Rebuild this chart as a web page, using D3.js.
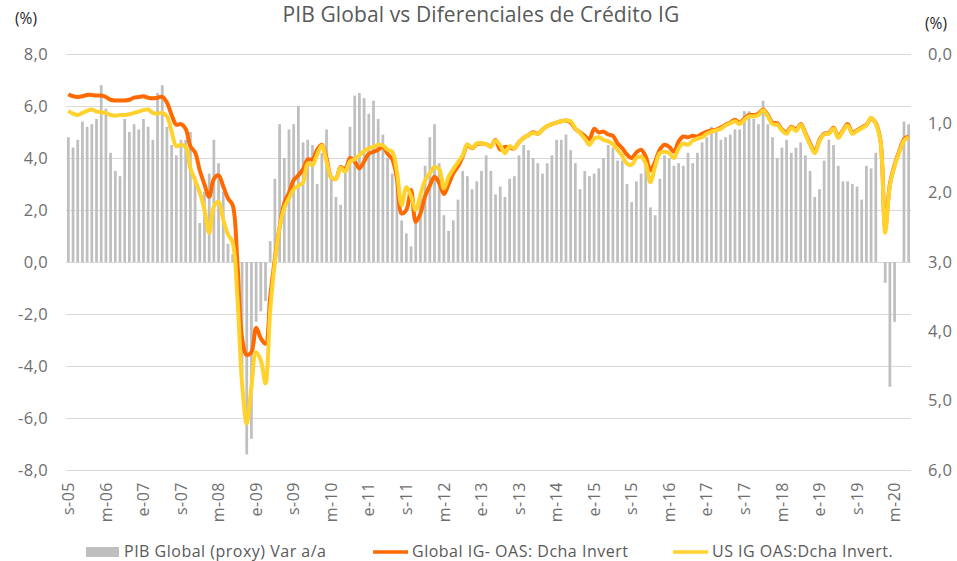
<!DOCTYPE html>
<html>
<head>
<meta charset="utf-8">
<script src="https://cdn.jsdelivr.net/npm/d3@7/dist/d3.min.js"></script>
<style>
    body { margin: 0; background: #fff; }
    text { font-family: "Open Sans", sans-serif; }
</style>
</head>
<body>
<div id="chart"></div>
<script>
// PIB Global (proxy) Var a/a, monthly from s-05 (left axis, %)
const pibGlobal = [
    4.8, 4.4, 4.7, 5.4, 5.2, 5.3, 5.5, 6.8, 5.9, 4.2,
    3.5, 3.3, 5.5, 5.0, 5.3, 5.1, 5.5, 5.2, 4.7, 6.5,
    6.8, 5.2, 4.5, 4.1, 4.7, 4.7, 5.0, 3.3, 1.5, 2.7,
    3.4, 4.7, 3.8, 2.7, 0.7, 0.3, -1.0, -4.3, -7.4, -6.8,
    -2.3, -1.9, -1.5, 0.8, 3.2, 5.3, 4.0, 5.1, 5.3, 6.0,
    4.6, 4.7, 4.5, 3.0, 4.2, 5.1, 3.3, 2.5, 2.2, 3.7,
    5.2, 6.4, 6.5, 6.3, 5.7, 6.2, 5.5, 4.9, 4.0, 3.4,
    3.2, 1.6, 1.1, 0.6, 1.6, 2.6, 3.7, 4.8, 5.3, 3.8,
    1.8, 1.2, 1.6, 2.4, 3.5, 3.3, 2.8, 3.1, 3.5, 4.1,
    3.5, 2.6, 2.9, 2.5, 3.2, 3.3, 4.1, 4.5, 4.3, 4.0,
    3.8, 3.4, 3.8, 4.1, 4.7, 4.7, 4.9, 4.3, 3.8, 2.8,
    3.5, 3.3, 3.4, 3.6, 4.0, 4.5, 4.4, 3.9, 3.9, 3.0,
    2.3, 3.1, 3.4, 4.0, 2.1, 1.8, 3.2, 4.1, 4.0, 3.7,
    3.8, 3.7, 4.2, 3.8, 4.2, 4.6, 4.8, 5.2, 5.0, 4.7,
    4.8, 4.9, 5.1, 5.1, 5.8, 5.8, 5.5, 5.3, 6.2, 5.3,
    4.8, 4.0, 4.4, 4.7, 4.2, 4.4, 4.6, 4.1, 3.5, 2.5,
    2.8, 3.9, 4.7, 4.5, 3.7, 3.1, 3.1, 3.0, 2.9, 2.4,
    3.7, 3.6, 4.2, 0.0, -0.8, -4.8, -2.3, 0.0, 5.4, 5.3
];

// Global IG- OAS (right axis, inverted, %)
const globalIG = [
    0.58, 0.61, 0.62, 0.61, 0.59, 0.59, 0.60, 0.60, 0.62, 0.66,
    0.67, 0.67, 0.67, 0.66, 0.63, 0.62, 0.61, 0.63, 0.64, 0.63,
    0.62, 0.70, 0.88, 1.02, 1.01, 1.08, 1.33, 1.42, 1.68, 1.88,
    2.06, 1.80, 1.75, 1.91, 2.08, 2.18, 3.00, 4.10, 4.34, 4.30,
    3.95, 4.10, 4.18, 3.50, 2.95, 2.50, 2.15, 2.00, 1.82, 1.75,
    1.66, 1.52, 1.52, 1.38, 1.31, 1.50, 1.78, 1.80, 1.63, 1.67,
    1.50, 1.55, 1.65, 1.55, 1.44, 1.41, 1.38, 1.34, 1.44, 1.52,
    1.80, 2.30, 2.25, 1.96, 2.42, 2.30, 2.05, 1.90, 1.77, 1.86,
    2.02, 1.88, 1.72, 1.62, 1.48, 1.32, 1.36, 1.30, 1.29, 1.30,
    1.33, 1.24, 1.38, 1.34, 1.35, 1.36, 1.27, 1.21, 1.17, 1.13,
    1.15, 1.09, 1.04, 1.01, 0.99, 0.97, 0.96, 0.99, 1.08, 1.13,
    1.18, 1.23, 1.08, 1.13, 1.12, 1.16, 1.18, 1.29, 1.36, 1.45,
    1.50, 1.42, 1.38, 1.48, 1.68, 1.55, 1.38, 1.31, 1.34, 1.41,
    1.26, 1.19, 1.20, 1.18, 1.19, 1.15, 1.12, 1.10, 1.09, 1.06,
    1.02, 0.99, 0.95, 0.99, 0.93, 0.88, 0.88, 0.86, 0.80, 0.88,
    0.99, 1.00, 1.09, 1.13, 1.05, 1.09, 1.01, 1.14, 1.29, 1.41,
    1.24, 1.15, 1.14, 1.06, 1.19, 1.10, 1.01, 1.13, 1.10, 1.06,
    1.02, 0.93, 1.00, 1.25, 2.50, 1.88, 1.60, 1.40, 1.23, 1.19
];

// US IG OAS (right axis, inverted, %)
const usIG = [
    0.82, 0.86, 0.88, 0.85, 0.82, 0.80, 0.83, 0.84, 0.85, 0.88,
    0.89, 0.88, 0.88, 0.87, 0.85, 0.83, 0.81, 0.80, 0.85, 0.86,
    0.85, 0.90, 1.12, 1.33, 1.31, 1.34, 1.65, 1.82, 2.00, 2.25,
    2.58, 2.20, 2.13, 2.39, 2.60, 2.72, 3.50, 4.75, 5.33, 4.80,
    4.30, 4.42, 4.75, 3.70, 3.00, 2.50, 2.22, 2.08, 1.95, 1.90,
    1.85, 1.58, 1.60, 1.45, 1.32, 1.55, 1.78, 1.80, 1.64, 1.70,
    1.55, 1.52, 1.46, 1.40, 1.36, 1.34, 1.31, 1.32, 1.38, 1.41,
    1.70, 2.18, 1.92, 2.05, 2.25, 2.03, 1.82, 1.72, 1.63, 1.66,
    1.94, 1.77, 1.66, 1.56, 1.46, 1.30, 1.36, 1.29, 1.29, 1.30,
    1.34, 1.25, 1.32, 1.43, 1.33, 1.36, 1.27, 1.21, 1.17, 1.14,
    1.15, 1.09, 1.04, 1.01, 0.99, 0.97, 0.96, 0.97, 1.07, 1.14,
    1.22, 1.31, 1.22, 1.20, 1.24, 1.26, 1.30, 1.38, 1.47, 1.58,
    1.60, 1.50, 1.48, 1.58, 1.85, 1.62, 1.43, 1.41, 1.43, 1.50,
    1.36, 1.29, 1.31, 1.25, 1.22, 1.20, 1.15, 1.12, 1.10, 1.08,
    1.03, 1.00, 0.97, 1.01, 0.95, 0.90, 0.90, 0.88, 0.81, 0.90,
    1.01, 1.02, 1.10, 1.15, 1.06, 1.11, 1.02, 1.16, 1.31, 1.43,
    1.26, 1.16, 1.15, 1.07, 1.21, 1.11, 1.03, 1.15, 1.11, 1.07,
    1.03, 0.92, 1.01, 1.26, 2.58, 1.90, 1.62, 1.42, 1.25, 1.20
];

// one label every 8 months
const tickLabels = [
    "s-05", "m-06", "e-07", "s-07", "m-08", "e-09", "s-09", "m-10",
    "e-11", "s-11", "m-12", "e-13", "s-13", "m-14", "e-15", "s-15",
    "m-16", "e-17", "s-17", "m-18", "e-19", "s-19", "m-20"
];
const tickStep = 8;

const leftTicks = [8, 6, 4, 2, 0, -2, -4, -6, -8];
const rightTicks = [0, 1, 2, 3, 4, 5, 6];

const legendItems = [
    { label: "PIB Global (proxy) Var a/a", type: "bar", color: "#bfbfbf", x: 86 },
    { label: "Global IG- OAS: Dcha Invert", type: "line", color: "#ff6a00", x: 373 },
    { label: "US IG OAS:Dcha Invert.", type: "line", color: "#ffd22e", x: 673 }
];

const width = 957, height = 561;
const margin = { top: 54, right: 46, bottom: 91, left: 66 };
const innerW = width - margin.left - margin.right;
const innerH = height - margin.top - margin.bottom;

const es = d3.formatLocale({ decimal: ",", thousands: ".", grouping: [3], currency: ["", "€"], minus: "-" });
const fmt = es.format(".1f");

const svg = d3.select("#chart")
    .append("svg")
    .attr("width", width)
    .attr("height", height);

const chart = svg.append("g")
    .attr("transform", "translate(" + margin.left + "," + margin.top + ")");

const xScale = d3.scaleBand()
    .domain(d3.range(pibGlobal.length))
    .range([0, innerW])
    .paddingInner(0.42)
    .paddingOuter(0.21);

const yLeft = d3.scaleLinear()
    .domain([-8, 8])
    .range([innerH, 0]);

const yRight = d3.scaleLinear()
    .domain([0, 6])
    .range([0, innerH]);

// gridlines
chart.append("g")
    .attr("class", "grid")
    .call(d3.axisLeft(yLeft).tickValues(leftTicks).tickSize(-innerW).tickFormat(""))
    .call(g => g.select(".domain").remove())
    .call(g => g.selectAll("line").attr("stroke", "#d9d9d9").attr("stroke-width", 1));

// bars
chart.append("g")
    .attr("class", "bars")
    .selectAll("rect")
    .data(pibGlobal)
    .enter()
    .append("rect")
    .attr("x", (d, i) => xScale(i))
    .attr("width", xScale.bandwidth())
    .attr("y", d => d >= 0 ? yLeft(d) : yLeft(0))
    .attr("height", d => Math.abs(yLeft(d) - yLeft(0)))
    .attr("fill", "#bfbfbf");

// lines
const line = (series) => d3.line()
    .x((d, i) => xScale(i) + xScale.bandwidth() / 2)
    .y(d => yRight(d))
    .curve(d3.curveCatmullRom.alpha(0.5))(series);

chart.append("path")
    .attr("d", line(globalIG))
    .attr("fill", "none")
    .attr("stroke", "#ff6a00")
    .attr("stroke-width", 4)
    .attr("stroke-linejoin", "round");

chart.append("path")
    .attr("d", line(usIG))
    .attr("fill", "none")
    .attr("stroke", "#ffd22e")
    .attr("stroke-width", 4)
    .attr("stroke-linejoin", "round");

// left axis labels
chart.append("g")
    .call(d3.axisLeft(yLeft).tickValues(leftTicks).tickSize(0).tickPadding(18).tickFormat(fmt))
    .call(g => g.select(".domain").remove())
    .call(g => g.selectAll("text")
        .attr("fill", "#6e6e6e")
        .style("font-size", "16.5px")
        .style("letter-spacing", "0.4px"));

// right axis labels
chart.append("g")
    .attr("transform", "translate(" + innerW + ",0)")
    .call(d3.axisRight(yRight).tickValues(rightTicks).tickSize(0).tickPadding(17).tickFormat(fmt))
    .call(g => g.select(".domain").remove())
    .call(g => g.selectAll("text")
        .attr("fill", "#6e6e6e")
        .style("font-size", "16.5px")
        .style("letter-spacing", "0.4px"));

// x labels, rotated
chart.append("g")
    .attr("class", "x-labels")
    .selectAll("text")
    .data(tickLabels)
    .enter()
    .append("text")
    .attr("transform", (d, k) =>
        "translate(" + (xScale(k * tickStep) + xScale.bandwidth() / 2) + "," + (innerH + 12) + ") rotate(-90)")
    .attr("dy", "0.35em")
    .attr("text-anchor", "end")
    .attr("fill", "#6e6e6e")
    .style("font-size", "16px")
    .style("letter-spacing", "0.5px")
    .text(d => d);

// title and units
svg.append("text")
    .attr("x", 481)
    .attr("y", 22)
    .attr("text-anchor", "middle")
    .attr("fill", "#595959")
    .style("font-size", "21px")
    .style("letter-spacing", "0.1px")
    .text("PIB Global vs Diferenciales de Crédito IG");

svg.append("text")
    .attr("x", 15)
    .attr("y", 24)
    .attr("fill", "#262626")
    .style("font-size", "15.5px")
    .text("(%)");

svg.append("text")
    .attr("x", 925)
    .attr("y", 29)
    .attr("fill", "#262626")
    .style("font-size", "15.5px")
    .text("(%)");

// legend
const legend = svg.append("g")
    .attr("class", "legend")
    .selectAll("g")
    .data(legendItems)
    .enter()
    .append("g")
    .attr("transform", d => "translate(" + d.x + ",552)");

legend.filter(d => d.type === "bar")
    .append("rect")
    .attr("x", 0)
    .attr("y", -5)
    .attr("width", 33)
    .attr("height", 10)
    .attr("fill", d => d.color);

legend.filter(d => d.type === "line")
    .append("line")
    .attr("x1", 0)
    .attr("x2", 35)
    .attr("stroke", d => d.color)
    .attr("stroke-width", 3.5);

legend.append("text")
    .attr("x", d => d.type === "bar" ? 38 : 39)
    .attr("y", 5)
    .attr("fill", "#595959")
    .style("font-size", "16px")
    .style("letter-spacing", "0.5px")
    .text(d => d.label);
</script>
</body>
</html>
